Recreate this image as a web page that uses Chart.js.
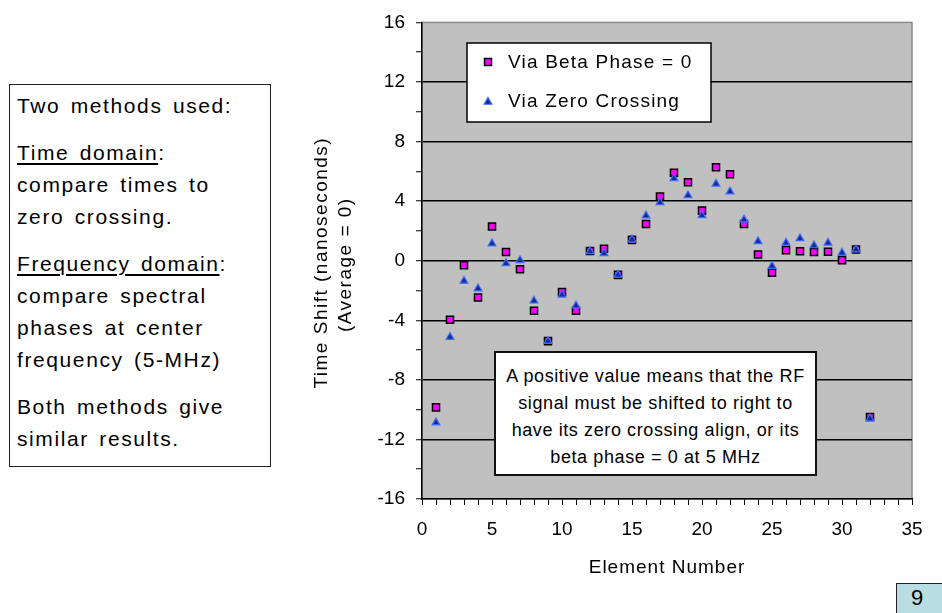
<!DOCTYPE html>
<html>
<head>
<meta charset="utf-8">
<script src="https://cdn.jsdelivr.net/npm/chart.js@4/dist/chart.umd.min.js"></script>
<style>
  body { margin: 0; background: #fff; font-family: "Liberation Sans", Arial, sans-serif; }
  #wrap { position: relative; width: 942px; height: 613px; overflow: hidden; }
  #chart { position: absolute; left: 0; top: 0; }
  .note {
    position: absolute; left: 9px; top: 84px; width: 262px; height: 383px;
    box-sizing: border-box; border: 1.5px solid #222; background: #fff;
    padding: 5px 0 0 7px; font-size: 21px; line-height: 32px;
    letter-spacing: 1.6px; word-spacing: 3px; color: #000;
  }
  .note p { margin: 0 0 15px 0; }
  .note u { text-decoration-thickness: 1.5px; text-underline-offset: 3px; }
  .remark {
    position: absolute; left: 494px; top: 351px; width: 323px; height: 125px;
    box-sizing: border-box; border: 2px solid #111; background: #fff;
    text-align: center; font-size: 18px; line-height: 27px; letter-spacing: 0.6px;
    padding-top: 10px; color: #000;
  }
  .page {
    position: absolute; left: 896px; top: 583px; width: 50px; height: 32px;
    box-sizing: border-box; border: 1.5px solid #222; background: #b8dee1;
    font-size: 22px; line-height: 28px; padding-left: 14px; color: #000;
  }
</style>
</head>
<body>
<div id="wrap">
  <canvas id="chart" width="942" height="613"></canvas>
  <div class="note">
    <p>Two methods used:</p>
    <p><u>Time domain</u>:<br>compare times to<br>zero crossing.</p>
    <p><u>Frequency domain</u>:<br>compare spectral<br>phases at center<br>frequency (5-MHz)</p>
    <p>Both methods give<br>similar results.</p>
  </div>
  <div class="remark">A positive value means that the RF<br>signal must be shifted to right to<br>have its zero crossing align, or its<br>beta phase = 0 at 5 MHz</div>
  <div class="page">9</div>
</div>
<script>
// element numbers 1..32
const elements = [1, 2, 3, 4, 5, 6, 7, 8, 9, 10, 11, 12, 13, 14, 15, 16,
  17, 18, 19, 20, 21, 22, 23, 24, 25, 26, 27, 28, 29, 30, 31, 32];

// time shift in ns
const betaPhase = [-9.85, -3.96, -0.3, -2.47, 2.3, 0.58, -0.58, -3.36, -5.4, -2.1, -3.36, 0.65,
  0.8, -0.95, 1.4, 2.47, 4.3, 5.9, 5.27, 3.36, 6.27, 5.8, 2.47, 0.42,
  -0.8, 0.71, 0.64, 0.58, 0.6, 0.04, 0.75, -10.5];
const zeroCrossing = [-10.87, -5.13, -1.36, -1.87, 1.15, -0.18, 0.02, -2.69, -5.4, -2.29, -3.02, 0.62,
  0.49, -0.95, 1.42, 3.02, 3.91, 5.53, 4.38, 3.04, 5.16, 4.64, 2.76, 1.3,
  -0.36, 1.2, 1.49, 1.02, 1.2, 0.53, 0.75, -10.6];

const yTicks = [-16, -12, -8, -4, 0, 4, 8, 12, 16];
const xTicks = [0, 5, 10, 15, 20, 25, 30, 35];

const seriesNames = ["Via Beta Phase = 0", "Via Zero Crossing"];
const xTitle = "Element Number";
const yTitle = ["Time Shift (nanoseconds)", "(Average = 0)"];

const MAGENTA = "#ff00ff";
const TRI_FILL = "#1a2a90";
const TRI_EDGE = "#3a6cff";

function pts(ys) {
  return elements.map((x, i) => ({ x: x, y: ys[i] }));
}

function drawSquare(ctx, x, y) {
  ctx.fillStyle = MAGENTA;
  ctx.strokeStyle = "#000";
  ctx.lineWidth = 1.5;
  ctx.fillRect(x - 3.5, y - 3.5, 7, 7);
  ctx.strokeRect(x - 3.5, y - 3.5, 7, 7);
}

function drawTriangle(ctx, x, y) {
  const r = 4.5;
  ctx.beginPath();
  for (let k = 0; k < 3; k++) {
    const a = k * 2 * Math.PI / 3;
    const px = x + Math.sin(a) * r, py = y - Math.cos(a) * r;
    if (k === 0) ctx.moveTo(px, py); else ctx.lineTo(px, py);
  }
  ctx.closePath();
  ctx.fillStyle = TRI_FILL;
  ctx.fill();
  ctx.strokeStyle = TRI_EDGE;
  ctx.lineWidth = 1.2;
  ctx.stroke();
}

const decor = {
  id: "decor",
  beforeDraw(chart) {
    const { ctx, chartArea: a } = chart;
    ctx.save();
    ctx.fillStyle = "#c0c0c0";
    ctx.fillRect(a.left, a.top, a.right - a.left, a.bottom - a.top);
    ctx.strokeStyle = "#8a8a8a";
    ctx.lineWidth = 1.5;
    ctx.strokeRect(a.left, a.top, a.right - a.left, a.bottom - a.top);
    ctx.restore();
  },
  afterDraw(chart) {
    const { ctx, chartArea: a } = chart;
    ctx.save();
    ctx.fillStyle = "#000";
    ctx.font = "19px 'Liberation Sans', Arial, sans-serif";
    ctx.textAlign = "center";
    ctx.textBaseline = "middle";
    ctx.letterSpacing = "1px";
    ctx.fillText(xTitle, (a.left + a.right) / 2, 568);

    // y title, two rotated lines
    const cy = (a.top + a.bottom) / 2;
    ctx.letterSpacing = "1.5px";
    ctx.save();
    ctx.translate(322, cy + 2);
    ctx.rotate(-Math.PI / 2);
    ctx.fillText(yTitle[0], 0, 0);
    ctx.restore();
    ctx.save();
    ctx.translate(346, cy + 4);
    ctx.rotate(-Math.PI / 2);
    ctx.fillText(yTitle[1], 0, 0);
    ctx.restore();

    // legend
    ctx.fillStyle = "#fff";
    ctx.fillRect(467, 43, 244, 79);
    ctx.strokeStyle = "#000";
    ctx.lineWidth = 1.5;
    ctx.strokeRect(467, 43, 244, 79);
    drawSquare(ctx, 488, 62);
    drawTriangle(ctx, 488, 102);
    ctx.fillStyle = "#000";
    ctx.textAlign = "left";
    ctx.letterSpacing = "1.2px";
    ctx.fillText(seriesNames[0], 508, 63);
    ctx.fillText(seriesNames[1], 508, 102);
    ctx.restore();
  }
};

new Chart(document.getElementById("chart"), {
  type: "scatter",
  data: {
    datasets: [
      {
        label: seriesNames[0],
        data: pts(betaPhase),
        order: 2,
        pointStyle: "rect",
        pointRadius: 5,
        pointBackgroundColor: MAGENTA,
        pointBorderColor: "#000",
        pointBorderWidth: 1.5
      },
      {
        label: seriesNames[1],
        data: pts(zeroCrossing),
        order: 1,
        pointStyle: "triangle",
        pointRadius: 4.5,
        pointBackgroundColor: TRI_FILL,
        pointBorderColor: TRI_EDGE,
        pointBorderWidth: 1.2
      }
    ]
  },
  options: {
    responsive: false,
    animation: false,
    devicePixelRatio: 1,
    layout: { padding: { top: 18, right: 30, bottom: 0, left: 0 } },
    plugins: { legend: { display: false }, tooltip: { enabled: false } },
    scales: {
      x: {
        type: "linear",
        min: 0,
        max: 35,
        afterFit: s => { s.height = 114; },
        ticks: {
          stepSize: 1,
          autoSkip: false,
          maxRotation: 0,
          padding: 13,
          color: "#000",
          font: { family: "'Liberation Sans', Arial, sans-serif", size: 19 },
          callback: v => (xTicks.includes(v) ? v : "")
        },
        grid: { drawOnChartArea: false, tickLength: 6, tickColor: "#000", tickWidth: 1 },
        border: { color: "#000", width: 1.5 }
      },
      y: {
        min: -16,
        max: 16,
        afterFit: s => { s.width = 422; },
        ticks: {
          stepSize: 2,
          autoSkip: false,
          padding: 11,
          color: "#000",
          font: { family: "'Liberation Sans', Arial, sans-serif", size: 19 },
          callback: v => (yTicks.includes(v) ? v : "")
        },
        grid: {
          color: c => (c.tick && yTicks.includes(c.tick.value) && Math.abs(c.tick.value) < 16 ? "#000" : "rgba(0,0,0,0)"),
          lineWidth: 1.5,
          tickLength: 6,
          tickColor: "#000",
          tickWidth: 1
        },
        border: { color: "#000", width: 1.5 }
      }
    }
  },
  plugins: [decor]
});
</script>
</body>
</html>
